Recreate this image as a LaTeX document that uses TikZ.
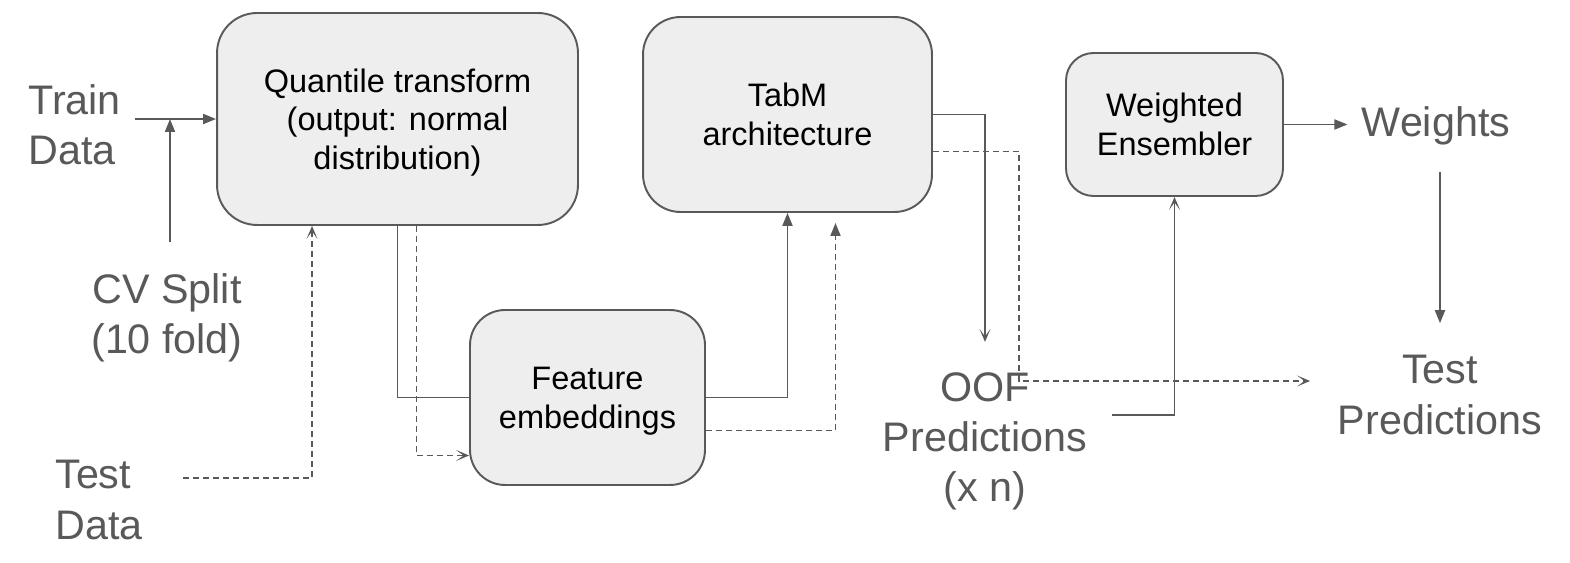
\documentclass[tikz,border=0pt]{standalone}
\usepackage{fontspec}
\setmainfont{Liberation Sans}
\usetikzlibrary{arrows.meta}
\definecolor{linegray}{HTML}{595959}
\definecolor{boxgray}{HTML}{EEEEEE}

\begin{document}
\begin{tikzpicture}[x=0.02cm, y=-0.02cm, every node/.append style={inner sep=0.28cm},
        block/.style={draw=linegray, fill=boxgray, line width=1.1pt, align=center, text depth=-0.1cm, font=\fontsize{18.5}{22}\selectfont},
        lbl/.style={text=linegray, font=\fontsize{23.5}{28.5}\selectfont},
        wire/.style={draw=linegray, line width=1.05pt},
        fillarrow/.style={wire, -{Triangle[length=0.26cm, width=0.2cm]}},
        openarrow/.style={wire, -{Stealth[length=0.26cm, width=0.22cm, inset=0.15cm]}},
        dasharrow/.style={openarrow, dash pattern=on 0.12cm off 0.08cm}]
        \useasboundingbox (0,0) rectangle (1570,563);

        \node [block, minimum width=7.22cm, minimum height=4.24cm, rounded corners=0.8cm] (quant) at (397.5,119) {Quantile transform\\(output: normal\\distribution)};
        \node [block, minimum width=5.78cm, minimum height=3.9cm, rounded corners=0.75cm] (tabm) at (787.5,114.5) {TabM\\architecture};
        \node [block, minimum width=4.7cm, minimum height=3.5cm, rounded corners=0.7cm] (feat) at (587.5,397.5) {Feature\\embeddings};
        \node [block, minimum width=4.34cm, minimum height=2.86cm, rounded corners=0.55cm] (ens) at (1174.5,124.5) {Weighted\\Ensembler};

        \node [lbl, anchor=west, align=left] (train) at (14,125) {Train\\Data};
        \node [lbl, align=center] (cv) at (167,318) {CV Split\\(10 fold)};
        \node [lbl, anchor=west, align=left] (test) at (41,500) {Test\\Data};
        \node [lbl, align=center] (oof) at (985,441) {OOF\\Predictions\\(x n)};
        \node [lbl] (weights) at (1436,126) {Weights};
        \node [lbl, align=center] (testpred) at (1440,395) {Test\\Predictions};
        \coordinate (split) at (170,119);
        \coordinate (turn) at (1019,381);

        \draw [fillarrow] (train.east |- quant) -- (quant);
        \draw [fillarrow] ([yshift=0.34cm]cv.north -| split) -- (split);
        \draw [dasharrow] ([xshift=0.53cm, yshift=0.44cm]test.east) -| ([xshift=-1.71cm]quant.south);
        \draw [wire] (quant.south) |- (feat.west);
        \draw [dasharrow] ([xshift=0.38cm]quant.south) |- ([yshift=-1.16cm]feat.west);
        \draw [fillarrow] (feat.east) -| (tabm.south);
        \draw [fillarrow, dash pattern=on 0.12cm off 0.08cm] ([yshift=-0.66cm]feat.east) -| ([xshift=0.96cm, yshift=-0.2cm]tabm.south);
        \draw [openarrow] (tabm.east) -| ([yshift=0.32cm]oof.north);
        \draw [dasharrow] ([yshift=-0.74cm]tabm.east) -| (turn) -- ([xshift=-0.27cm]turn -| testpred.west);
        \draw [openarrow] ([xshift=0.22cm, yshift=0.52cm]oof.east) -| (ens.south);
        \draw [fillarrow] (ens.east) -- (ens.east -| weights.west);
        \draw [fillarrow] ([yshift=-0.25cm]weights.south -| testpred) -- ([yshift=0.36cm]testpred.north);
\end{tikzpicture}
\end{document}
